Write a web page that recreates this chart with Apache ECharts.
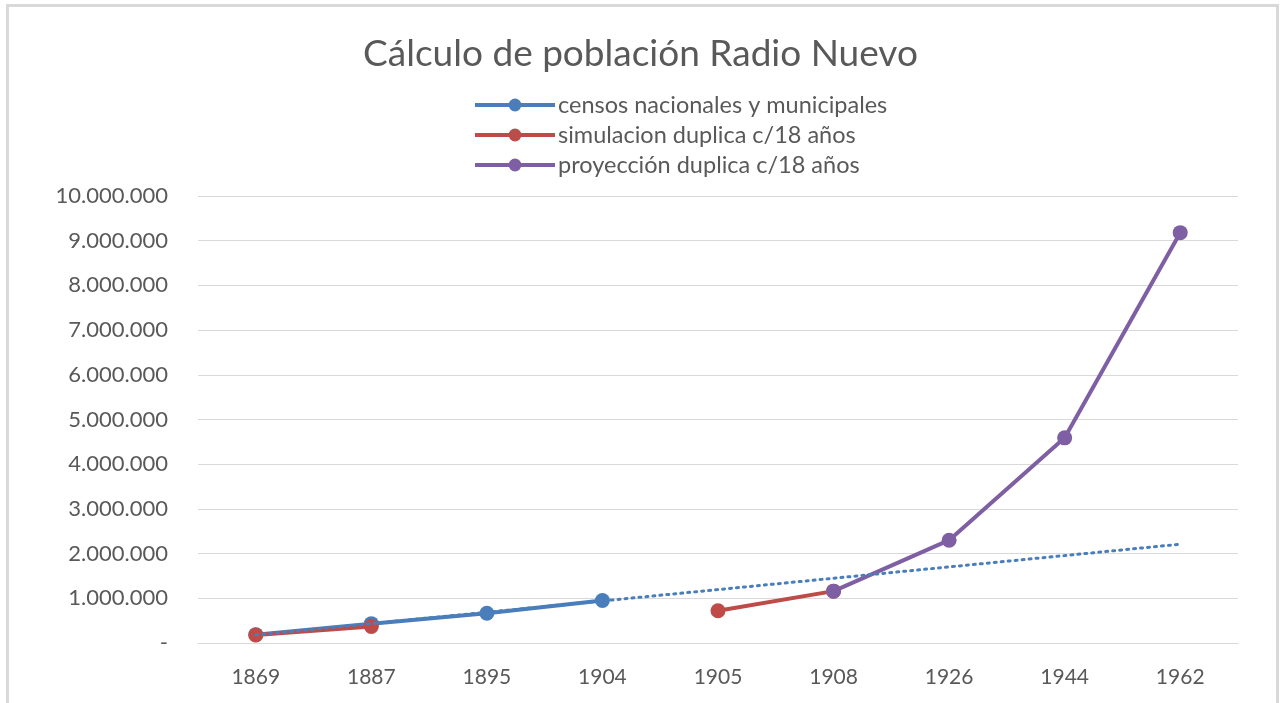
<!DOCTYPE html>
<html>
<head>
<meta charset="utf-8">
<script src="https://cdn.jsdelivr.net/npm/echarts@6/dist/echarts.min.js"></script>
<style>
html,body{margin:0;padding:0;background:#fff;}
#chart{width:1281px;height:703px;}
</style>
</head>
<body>
<div id="chart"></div>
<script>
const categories = ['1869','1887','1895','1904','1905','1908','1926','1944','1962'];
const censos = [187000, 433000, 664000, 951000, null, null, null, null, null];
const simulacion = [180000, 370000, null, null, 720000, 1160000, null, null, null];
const proyeccion = [null, null, null, null, null, 1160000, 2300000, 4590000, 9180000];
const tendencia = [180000, null, null, null, null, null, null, null, 2210000];
const yTicks = [0, 1000000, 2000000, 3000000, 4000000, 5000000, 6000000, 7000000, 8000000, 9000000, 10000000];
const seriesNames = ['censos nacionales y municipales', 'simulacion duplica c/18 años', 'proyección duplica c/18 años'];

const FONT = 'Lato, "Open Sans", sans-serif';
const chart = echarts.init(document.getElementById('chart'));
function fmt(v){
  if (v === 0) return '-';
  return String(v).replace(/\B(?=(\d{3})+(?!\d))/g, '.');
}
const lineSeries = (name, data, color) => ({
  name, type: 'line', data, connectNulls: false,
  symbol: 'circle', symbolSize: 15,
  lineStyle: {color, width: 4},
  itemStyle: {color},
  emphasis: {disabled: true}
});
chart.setOption({
  animation: false,
  backgroundColor: '#fff',
  graphic: [{
    type: 'rect', silent: true,
    shape: {x: 7.5, y: 5.5, width: 1270, height: 760},
    style: {fill: 'none', stroke: '#d9d9d9', lineWidth: 3}
  }],
  title: {
    text: 'Cálculo de población Radio Nuevo',
    left: 'center', top: 31,
    textStyle: {fontFamily: FONT, fontSize: 37, fontWeight: 'normal', color: '#595959'}
  },
  legend: {
    orient: 'vertical',
    left: 468, top: 88,
    itemWidth: 80, itemHeight: 16, itemGap: 6,
    lineStyle: {width: 4},
    data: seriesNames.map(n => ({name: n})),
    textStyle: {fontFamily: FONT, fontSize: 23.5, color: '#595959', padding: [0,0,0,-2]}
  },
  grid: {left: 198, right: 43, top: 196, bottom: 60, containLabel: false},
  xAxis: {
    type: 'category', data: categories,
    axisLine: {lineStyle: {color: '#d9d9d9', width: 1}},
    axisTick: {show: false},
    axisLabel: {fontFamily: FONT, fontSize: 21, color: '#595959', margin: 24}
  },
  yAxis: {
    type: 'value', min: 0, max: 10000000, interval: 1000000,
    axisLine: {show: false}, axisTick: {show: false},
    splitLine: {lineStyle: {color: '#d9d9d9', width: 1}},
    axisLabel: {fontFamily: FONT, fontSize: 22, color: '#595959', margin: 30,
      formatter: v => yTicks.includes(v) ? fmt(v) : ''}
  },
  series: [
    lineSeries(seriesNames[0], censos, '#4a7ebb'),
    lineSeries(seriesNames[1], simulacion, '#be4b48'),
    lineSeries(seriesNames[2], proyeccion, '#7f5fa3'),
    {
      name: 'tendencia', type: 'line', data: tendencia, connectNulls: true,
      symbol: 'none', z: 5,
      lineStyle: {color: '#4a7ebb', width: 3, type: [2, 5], cap: 'round'},
      emphasis: {disabled: true}
    }
  ]
});
</script>
</body>
</html>
